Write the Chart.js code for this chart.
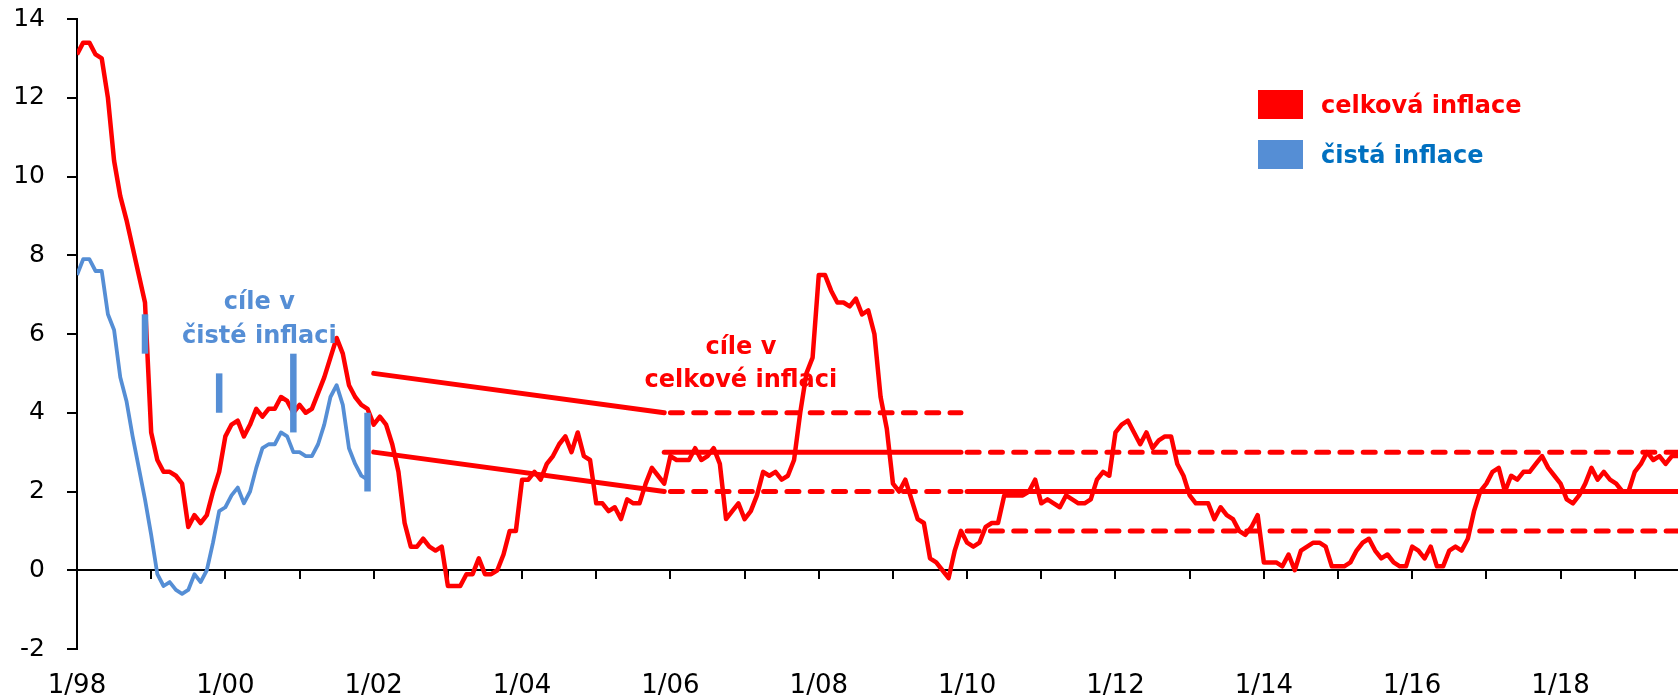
<!DOCTYPE html>
<html>
<head>
<meta charset="utf-8">
<script src="https://cdn.jsdelivr.net/npm/chart.js@4.4.1/dist/chart.umd.min.js"></script>
<style>
  html, body { margin: 0; padding: 0; background: #fff; }
  #wrap { width: 1678px; height: 699px; }
</style>
</head>
<body>
<div id="wrap"><canvas id="chart" width="1678" height="699"></canvas></div>
<script>
const RED = '#ff0000';
const BLUE = '#558ed5';

// meziroční inflace po měsících, index 0 = leden 1998
const celkova = [
  13.1, 13.4, 13.4, 13.1, 13.0, 12.0, 10.4, 9.5, 8.9, 8.2, 7.5, 6.8,   // 1998
  3.5, 2.8, 2.5, 2.5, 2.4, 2.2, 1.1, 1.4, 1.2, 1.4, 2.0, 2.5,         // 1999
  3.4, 3.7, 3.8, 3.4, 3.7, 4.1, 3.9, 4.1, 4.1, 4.4, 4.3, 4.0,         // 2000
  4.2, 4.0, 4.1, 4.5, 4.9, 5.4, 5.9, 5.5, 4.7, 4.4, 4.2, 4.1,         // 2001
  3.7, 3.9, 3.7, 3.2, 2.5, 1.2, 0.6, 0.6, 0.8, 0.6, 0.5, 0.6,         // 2002
  -0.4, -0.4, -0.4, -0.1, -0.1, 0.3, -0.1, -0.1, 0.0, 0.4, 1.0, 1.0,  // 2003
  2.3, 2.3, 2.5, 2.3, 2.7, 2.9, 3.2, 3.4, 3.0, 3.5, 2.9, 2.8,         // 2004
  1.7, 1.7, 1.5, 1.6, 1.3, 1.8, 1.7, 1.7, 2.2, 2.6, 2.4, 2.2,         // 2005
  2.9, 2.8, 2.8, 2.8, 3.1, 2.8, 2.9, 3.1, 2.7, 1.3, 1.5, 1.7,         // 2006
  1.3, 1.5, 1.9, 2.5, 2.4, 2.5, 2.3, 2.4, 2.8, 4.0, 5.0, 5.4,         // 2007
  7.5, 7.5, 7.1, 6.8, 6.8, 6.7, 6.9, 6.5, 6.6, 6.0, 4.4, 3.6,         // 2008
  2.2, 2.0, 2.3, 1.8, 1.3, 1.2, 0.3, 0.2, 0.0, -0.2, 0.5, 1.0,        // 2009
  0.7, 0.6, 0.7, 1.1, 1.2, 1.2, 1.9, 1.9, 1.9, 1.9, 2.0, 2.3,         // 2010
  1.7, 1.8, 1.7, 1.6, 1.9, 1.8, 1.7, 1.7, 1.8, 2.3, 2.5, 2.4,         // 2011
  3.5, 3.7, 3.8, 3.5, 3.2, 3.5, 3.1, 3.3, 3.4, 3.4, 2.7, 2.4,         // 2012
  1.9, 1.7, 1.7, 1.7, 1.3, 1.6, 1.4, 1.3, 1.0, 0.9, 1.1, 1.4,         // 2013
  0.2, 0.2, 0.2, 0.1, 0.4, 0.0, 0.5, 0.6, 0.7, 0.7, 0.6, 0.1,         // 2014
  0.1, 0.1, 0.2, 0.5, 0.7, 0.8, 0.5, 0.3, 0.4, 0.2, 0.1, 0.1,         // 2015
  0.6, 0.5, 0.3, 0.6, 0.1, 0.1, 0.5, 0.6, 0.5, 0.8, 1.5, 2.0,         // 2016
  2.2, 2.5, 2.6, 2.0, 2.4, 2.3, 2.5, 2.5, 2.7, 2.9, 2.6, 2.4,         // 2017
  2.2, 1.8, 1.7, 1.9, 2.2, 2.6, 2.3, 2.5, 2.3, 2.2, 2.0, 2.0,         // 2018
  2.5, 2.7, 3.0, 2.8, 2.9, 2.7, 2.9, 2.9                              // 2019
];

const cista = [
  7.5, 7.9, 7.9, 7.6, 7.6, 6.5, 6.1, 4.9, 4.3, 3.4, 2.6, 1.8,         // 1998
  0.9, -0.1, -0.4, -0.3, -0.5, -0.6, -0.5, -0.1, -0.3, 0.0, 0.7, 1.5, // 1999
  1.6, 1.9, 2.1, 1.7, 2.0, 2.6, 3.1, 3.2, 3.2, 3.5, 3.4, 3.0,         // 2000
  3.0, 2.9, 2.9, 3.2, 3.7, 4.4, 4.7, 4.2, 3.1, 2.7, 2.4, 2.3          // 2001
];

// cíle v čisté inflaci (prosinec daného roku), rozpětí
const cistaCilX = [11, 23, 35, 47];
const cistaCilOd = [5.5, 4.0, 3.5, 2.0];
const cistaCilDo = [6.5, 5.0, 5.5, 4.0];

// cíle v celkové inflaci
const pasmo02X = [48, 95];
const pasmo02Horni = [5, 4];
const pasmo02Dolni = [3, 2];
const cil06X = [95, 143];
const cil06 = [3, 3];
const tol06X = [96, 143];
const tol06Horni = [4, 4];
const tol06Dolni = [2, 2];
const cil10X = [144, 259];
const cil10 = [2, 2];
const tol10Horni = [3, 3];
const tol10Dolni = [1, 1];

const xTickLabels = ['1/98', '1/00', '1/02', '1/04', '1/06', '1/08', '1/10', '1/12', '1/14', '1/16', '1/18'];
const yMin = -2, yMax = 14, yStep = 2;

const seriesNames = ['celková inflace', 'čistá inflace'];
const legendTextColors = [RED, '#0070c0'];

const toPoints = (xs, ys) => xs.map((x, i) => ({ x, y: ys[i] }));
const monthly = (vals) => vals.map((y, i) => ({ x: i, y }));

const datasets = [];

cistaCilX.forEach((m, i) => {
  datasets.push({
    label: 'cíl čistá ' + i,
    data: [{ x: m, y: cistaCilOd[i] }, { x: m, y: cistaCilDo[i] }],
    borderColor: BLUE,
    borderWidth: 6.5,
    borderCapStyle: 'butt'
  });
});

datasets.push({ label: seriesNames[1], data: monthly(cista), borderColor: BLUE, borderWidth: 3.8 });
datasets.push({ label: seriesNames[0], data: monthly(celkova), borderColor: RED, borderWidth: 4.5 });

const solid = (data) => ({ data, borderColor: RED, borderWidth: 5, borderCapStyle: 'round' });
const dashed = (data) => ({ data, borderColor: RED, borderWidth: 5, borderCapStyle: 'round', borderDash: [12, 11.3] });

datasets.push(solid(toPoints(pasmo02X, pasmo02Horni)));
datasets.push(solid(toPoints(pasmo02X, pasmo02Dolni)));
datasets.push(solid(toPoints(cil06X, cil06)));
datasets.push(dashed(toPoints(tol06X, tol06Horni)));
datasets.push(dashed(toPoints(tol06X, tol06Dolni)));
datasets.push(solid(toPoints(cil10X, cil10)));
datasets.push(dashed(toPoints(cil10X, tol10Horni)));
datasets.push(dashed(toPoints(cil10X, tol10Dolni)));

// legenda a popisky cílů
const popisky = {
  id: 'popisky',
  afterDraw(chart) {
    const { ctx } = chart;
    const x = chart.scales.x, y = chart.scales.y;
    ctx.save();
    ctx.font = 'bold 24px "DejaVu Sans"';
    ctx.textBaseline = 'alphabetic';

    // legenda
    const boxColors = [RED, BLUE];
    seriesNames.forEach((name, i) => {
      const top = 90 + i * 50;
      ctx.fillStyle = boxColors[i];
      ctx.fillRect(1258, top, 45, 29);
      ctx.fillStyle = legendTextColors[i];
      ctx.textAlign = 'left';
      ctx.fillText(name, 1321, top + 23);
    });

    ctx.textAlign = 'center';
    ctx.fillStyle = BLUE;
    const bx = x.getPixelForValue(29.5);
    ctx.fillText('cíle v', bx, y.getPixelForValue(6.63));
    ctx.fillText('čisté inflaci', bx, y.getPixelForValue(5.77));

    ctx.fillStyle = RED;
    const rx = x.getPixelForValue(107.4);
    ctx.fillText('cíle v', rx, y.getPixelForValue(5.49));
    ctx.fillText('celkové inflaci', rx, y.getPixelForValue(4.65));
    ctx.restore();
  }
};

new Chart(document.getElementById('chart'), {
  type: 'line',
  data: { datasets },
  options: {
    responsive: false,
    animation: false,
    devicePixelRatio: 1,
    events: [],
    layout: { autoPadding: false, padding: { top: 19, left: 0, right: 0, bottom: 0 } },
    elements: {
      point: { radius: 0 },
      line: { tension: 0, fill: false, borderJoinStyle: 'round' }
    },
    plugins: {
      legend: { display: false },
      tooltip: { enabled: false }
    },
    scales: {
      x: {
        type: 'linear',
        position: 'bottom',
        min: 0,
        max: 259,
        afterBuildTicks: (s) => { s.ticks = s.ticks.filter((t) => t.value % 24 === 0); },
        afterFit: (s) => { s.height = 50; },
        grid: { drawOnChartArea: false, drawTicks: false },
        border: { display: false },
        ticks: {
          stepSize: 24,
          autoSkip: false,
          maxRotation: 0,
          padding: 22,
          color: '#000',
          font: { family: 'DejaVu Sans', size: 26 },
          callback: (v) => xTickLabels[v / 24] ?? ''
        }
      },
      x2: {
        type: 'linear',
        axis: 'x',
        position: { y: 0 },
        min: 0,
        max: 259,
        afterBuildTicks: (s) => { s.ticks = s.ticks.filter((t) => t.value % 12 === 0); },
        afterFit: (s) => { s.height = 0; },
        grid: { drawOnChartArea: false, tickLength: 8, color: '#000', lineWidth: 2 },
        border: { color: '#000', width: 2 },
        ticks: { display: false, stepSize: 12 }
      },
      y: {
        min: yMin,
        max: yMax,
        afterFit: (s) => { s.width = 77; s.paddingTop = 0; s.paddingBottom = 0; },
        grid: { drawOnChartArea: false, tickLength: 10, color: '#000', lineWidth: 2 },
        border: { color: '#000', width: 2 },
        ticks: { stepSize: yStep, padding: 22, color: '#000', font: { family: 'DejaVu Sans', size: 25 } }
      }
    }
  },
  plugins: [popisky]
});
</script>
</body>
</html>
